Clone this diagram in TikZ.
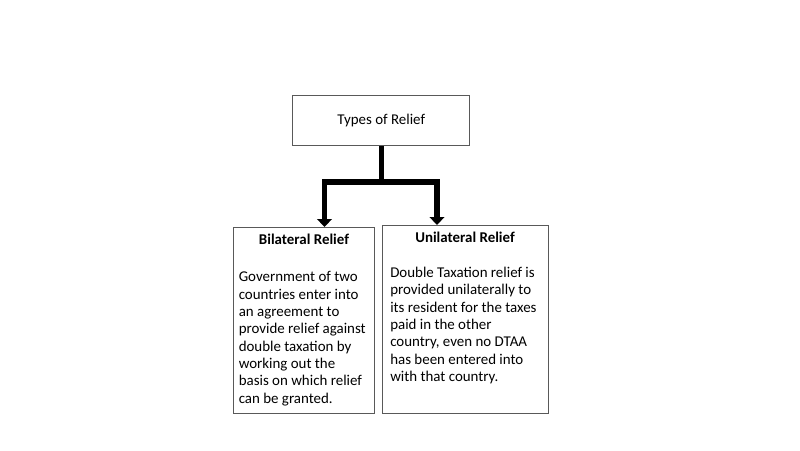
\documentclass[tikz,border=0pt]{standalone}
\usepackage{fontspec}
\setmainfont{Carlito}
\usetikzlibrary{arrows.meta,calc}
\begin{document}
\begin{tikzpicture}[x=0.75pt,y=-0.75pt,
  box/.style={draw=black!65,line width=1.1pt,fill=white,inner sep=0pt,anchor=north west},
  bodytext/.style={align=left,inner sep=0pt,anchor=base west,font=\fontsize{11.2}{13}\selectfont},
  headtext/.style={inner sep=0pt,anchor=base,font=\fontsize{11.2}{13}\selectfont\bfseries},
  stem/.style={line width=3.5pt,black},
  conn/.style={line width=4.2pt,black},
  arr/.style={conn,-{Triangle[width=11pt,length=6pt]}}]
\useasboundingbox (0,0) rectangle (800,450);
\node[box,minimum width=132.75pt,minimum height=37.5pt] (top) at (292,95) {};
\node[font=\fontsize{11.2}{13}\selectfont] (toptext) at (top.center) {Types of Relief};
\node[box,minimum width=105.75pt,minimum height=139.5pt] (lbox) at (233,227) {};
\node[box,minimum width=124.5pt,minimum height=141pt] (rbox) at (382,225) {};
\node[headtext] (lhead) at (304,244) {Bilateral Relief};
\node[headtext] (rhead) at (465,242) {Unilateral Relief};
\node[bodytext] (lbody) at (238.5,403) {Government of two\\countries enter into\\an agreement to\\provide relief against\\double taxation by\\working out the\\basis on which relief\\can be granted.};
\node[bodytext] (rbody) at (390,381.5) {Double Taxation relief is\\provided unilaterally to\\its resident for the taxes\\paid in the other\\country, even no DTAA\\has been entered into\\with that country.};
\coordinate (j) at (381.5,182);
\coordinate (la) at (324.5,227);
\coordinate (ra) at (437,225);
\draw[stem] (top.south -| j) -- ($(j)+(0,2)$);
\draw[arr] (j) -| (la);
\draw[arr] (j) -| (ra);
\end{tikzpicture}
\end{document}
